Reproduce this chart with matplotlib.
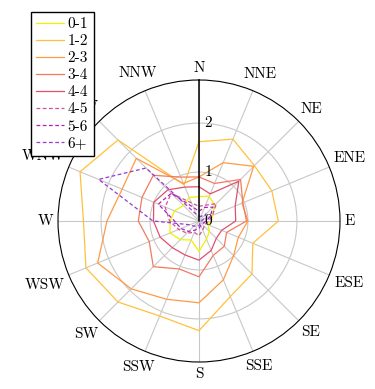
import matplotlib
matplotlib.use('Agg')
import matplotlib.pyplot as plt
import numpy as np

plt.rcParams['font.family'] = ['cmr10', 'DejaVu Serif']
plt.rcParams['axes.formatter.use_mathtext'] = True

directions = ['N', 'NNE', 'NE', 'ENE', 'E', 'ESE', 'SE', 'SSE',
              'S', 'SSW', 'SW', 'WSW', 'W', 'WNW', 'NW', 'NNW']
labels = ['0-1', '1-2', '2-3', '3-4', '4-4', '4-5', '5-6', '6+']

# wind speed classes, one value per direction (N clockwise to NNW)
s01 = [0.50, 0.55, 0.45, 0.30, 0.25, 0.20, 0.30, 0.40, 0.62, 0.42, 0.54, 0.64, 0.59, 0.54, 0.45, 0.52]
s12 = [1.62, 1.81, 1.60, 1.61, 1.62, 1.19, 1.53, 1.67, 2.24, 2.10, 2.34, 2.50, 2.36, 2.63, 2.34, 0.80]
s23 = [0.90, 1.29, 1.58, 0.95, 1.00, 0.87, 1.00, 1.30, 1.67, 1.73, 1.96, 2.24, 1.88, 1.70, 1.81, 0.83]
s34 = [0.90, 0.83, 1.20, 0.97, 0.97, 0.61, 0.73, 0.76, 1.14, 1.06, 1.32, 1.10, 1.24, 1.26, 1.32, 0.97]
s44 = [0.70, 0.60, 1.15, 0.80, 0.75, 0.50, 0.50, 0.65, 0.80, 0.75, 0.77, 0.86, 0.93, 1.00, 0.90, 0.75]
s45 = [0.30, 0.35, 0.50, 0.30, 0.20, 0.15, 0.15, 0.20, 0.30, 0.25, 0.35, 0.45, 0.60, 0.75, 0.80, 0.40]
s56 = [0.20, 0.30, 0.40, 0.25, 0.15, 0.10, 0.10, 0.10, 0.15, 0.20, 0.30, 0.40, 0.50, 0.90, 0.80, 0.30]
s6p = [0.10, 0.10, 0.20, 0.10, 0.05, 0.05, 0.05, 0.05, 0.10, 0.10, 0.15, 0.20, 0.94, 2.22, 1.53, 0.15]
series = [s01, s12, s23, s34, s44, s45, s56, s6p]

colors = ['#f2f000', '#ffc13b', '#ff9a45', '#f37a5e', '#e0506c', '#d0509c', '#b020b4', '#9a3ad0']
dashed = [False, False, False, False, False, True, True, True]

rmax = 2.88
R_px = 141
fs = 11

fig = plt.figure(figsize=(3.75, 3.89), dpi=100)
ax = fig.add_axes([58 / 375, 27 / 389, 282 / 375, 282 / 389], polar=True)
ax.set_theta_zero_location('N')
ax.set_theta_direction(-1)

theta = np.deg2rad(np.arange(len(directions)) * 22.5)
theta_c = np.append(theta, theta[0])

for vals, lab, c, d in zip(series, labels, colors, dashed):
    v = np.append(vals, vals[0])
    line, = ax.plot(theta_c, v, color=c, linewidth=0.9, label=lab)
    if d:
        line.set_dashes((3, 2))

ax.set_ylim(0, rmax)
ax.set_yticks([1, 2])
ax.set_yticklabels([])
ax.set_xticks(theta)
ax.set_xticklabels([])
ax.grid(True, color='#c8c8c8', linewidth=0.8)
ax.spines['polar'].set_color('black')
ax.spines['polar'].set_linewidth(0.8)

# radial axis line and its tick labels
ax.plot([0, 0], [0, rmax], color='black', linewidth=1.1, zorder=5)
for v in [0, 1, 2]:
    ax.annotate(str(v), xy=(0, v), xytext=(4, 0), textcoords='offset points',
                ha='left', va='center', fontsize=fs, zorder=6)

# compass labels, pushed out so the box edge sits just outside the circle
fig.canvas.draw()
renderer = fig.canvas.get_renderer()
cx, cy = ax.transData.transform((0, 0))
gap = 5
for th, name in zip(theta, directions):
    t = fig.text(0, 0, name, ha='center', va='center', fontsize=fs, zorder=2)
    bb = t.get_window_extent(renderer)
    ux, uy = np.sin(th), np.cos(th)
    d = R_px + gap + 0.5 * (abs(ux) * bb.width + abs(uy) * bb.height)
    px, py = cx + ux * d, cy + uy * d
    t.set_position(fig.transFigure.inverted().transform((px, py)))

leg = fig.legend(loc='upper left', bbox_to_anchor=(31 / 375, 1 - 12 / 389),
                 fontsize=fs, handlelength=1.8, labelspacing=0.22,
                 borderpad=0.35, handletextpad=0.25, borderaxespad=0,
                 fancybox=False, framealpha=1, edgecolor='black')
leg.get_frame().set_linewidth(1.0)
leg.set_zorder(10)

fig.savefig('out.png', dpi=100)
